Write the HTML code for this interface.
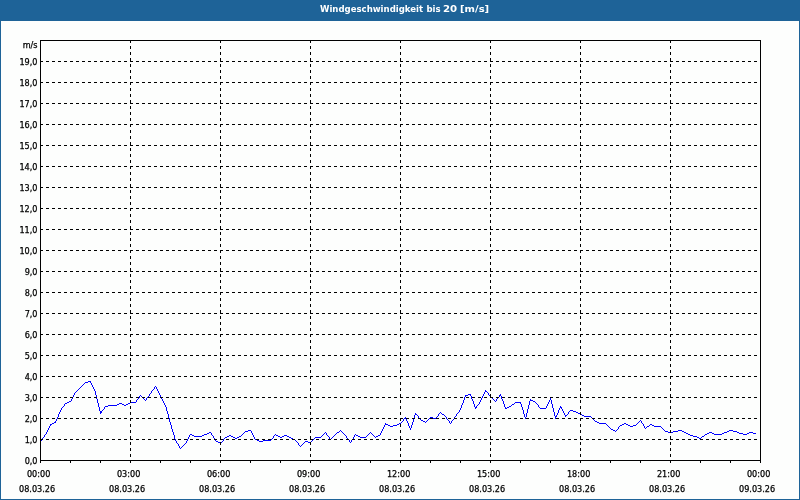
<!DOCTYPE html>
<html><head><meta charset="utf-8"><title>Windgeschwindigkeit bis 20 [m/s]</title>
<style>
html,body{margin:0;padding:0;background:#fdfefd;}
body{width:800px;height:500px;overflow:hidden;position:relative;font-family:"Liberation Sans",sans-serif;}
#frame{position:absolute;left:0;top:0;width:798px;height:478px;border:1px solid #1e6398;border-top:21px solid #1e6398;background:#fdfefd;}
#title{position:absolute;left:0;top:0;width:800px;height:21px;line-height:19px;color:#fff;font-family:"DejaVu Sans Condensed","DejaVu Sans","Liberation Sans",sans-serif;font-weight:bold;font-size:9.5px;white-space:nowrap;}
#title span{position:absolute;top:-1px;}
svg{position:absolute;left:0;top:0;}
svg text{font-family:"DejaVu Sans Condensed","DejaVu Sans","Liberation Sans",sans-serif;font-size:9px;fill:#000;stroke:#000;stroke-width:0.25px;}
</style></head><body>
<div id="frame"></div>
<div id="title"><span style="left:320px">Windgeschwindigkeit </span><span style="left:426.5px">bis </span><span style="left:442.8px;transform:scaleX(1.19);transform-origin:0 0">20 </span><span style="left:459.8px;transform:scaleX(1.17);transform-origin:0 0">[m/s]</span></div>
<svg width="800" height="500" viewBox="0 0 800 500">
<g shape-rendering="crispEdges" fill="none" stroke="#000" stroke-width="1">
<path stroke="none" fill="#0000ff" d="M88 381h2v1h-2zM90 381h1v2h-1zM85 382h3v1h-3zM84 383h1v1h-1zM91 383h1v2h-1zM83 384h1v1h-1zM82 385h1v1h-1zM92 385h1v2h-1zM81 386h1v1h-1zM155 386h1v1h-1zM80 387h1v1h-1zM93 387h1v2h-1zM154 387h1v2h-1zM156 387h1v2h-1zM79 388h1v1h-1zM78 389h1v1h-1zM153 389h1v1h-1zM94 389h1v2h-1zM157 389h1v2h-1zM77 390h1v1h-1zM152 390h1v1h-1zM485 390h1v2h-1zM76 391h1v1h-1zM486 391h1v1h-1zM151 391h1v2h-1zM158 391h1v2h-1zM95 391h1v4h-1zM75 392h1v1h-1zM487 392h1v1h-1zM484 392h1v2h-1zM150 393h1v1h-1zM74 393h1v2h-1zM159 393h1v2h-1zM488 393h1v2h-1zM468 394h2v1h-2zM149 394h1v2h-1zM470 394h1v2h-1zM483 394h1v2h-1zM500 394h1v2h-1zM140 395h1v1h-1zM466 395h2v1h-2zM489 395h1v1h-1zM73 395h1v2h-1zM160 395h1v2h-1zM465 395h1v2h-1zM499 395h1v2h-1zM96 395h1v4h-1zM141 396h1v1h-1zM148 396h1v1h-1zM490 396h1v1h-1zM139 396h1v2h-1zM482 396h1v2h-1zM471 396h1v3h-1zM501 396h1v3h-1zM142 397h1v1h-1zM147 397h1v1h-1zM491 397h1v1h-1zM498 397h1v1h-1zM72 397h1v2h-1zM161 397h1v2h-1zM464 397h1v3h-1zM138 398h1v1h-1zM143 398h1v1h-1zM492 398h1v1h-1zM497 398h1v1h-1zM146 398h1v2h-1zM481 398h1v2h-1zM550 398h1v2h-1zM137 399h1v1h-1zM144 399h1v1h-1zM493 399h1v1h-1zM71 399h1v2h-1zM162 399h1v2h-1zM472 399h1v2h-1zM496 399h1v2h-1zM502 399h1v2h-1zM530 399h1v2h-1zM97 399h1v4h-1zM145 400h1v1h-1zM494 400h1v1h-1zM531 400h2v1h-2zM136 400h1v2h-1zM480 400h1v2h-1zM549 400h1v2h-1zM463 400h1v3h-1zM551 400h1v4h-1zM69 401h2v1h-2zM495 401h1v1h-1zM533 401h2v1h-2zM163 401h1v2h-1zM473 401h1v3h-1zM503 401h1v3h-1zM529 401h1v4h-1zM67 402h2v1h-2zM130 402h6v1h-6zM515 402h5v1h-5zM535 402h1v1h-1zM479 402h1v2h-1zM520 402h1v2h-1zM548 402h1v2h-1zM65 403h2v1h-2zM119 403h3v1h-3zM128 403h2v1h-2zM514 403h1v1h-1zM536 403h1v1h-1zM164 403h1v2h-1zM462 403h1v2h-1zM98 403h1v4h-1zM117 404h2v1h-2zM122 404h2v1h-2zM126 404h2v1h-2zM478 404h1v1h-1zM512 404h2v1h-2zM537 404h1v1h-1zM64 404h1v2h-1zM547 404h1v2h-1zM474 404h1v3h-1zM504 404h1v3h-1zM521 404h1v3h-1zM552 404h1v4h-1zM108 405h9v1h-9zM124 405h2v1h-2zM477 405h1v1h-1zM511 405h1v1h-1zM165 405h1v2h-1zM538 405h1v2h-1zM461 405h1v3h-1zM528 405h1v4h-1zM63 406h1v1h-1zM105 406h3v1h-3zM509 406h2v1h-2zM476 406h1v2h-1zM546 406h1v2h-1zM560 406h1v2h-1zM62 407h1v1h-1zM507 407h2v1h-2zM539 407h1v1h-1zM104 407h1v2h-1zM475 407h1v2h-1zM505 407h1v2h-1zM561 407h1v2h-1zM522 407h1v3h-1zM99 407h1v4h-1zM166 407h1v4h-1zM506 408h1v1h-1zM540 408h6v1h-6zM61 408h1v2h-1zM460 408h1v2h-1zM559 408h1v2h-1zM553 408h1v4h-1zM103 409h1v1h-1zM562 409h1v2h-1zM527 409h1v4h-1zM102 410h1v1h-1zM570 410h3v1h-3zM60 410h1v2h-1zM459 410h1v2h-1zM558 410h1v3h-1zM523 410h1v4h-1zM569 411h1v1h-1zM573 411h3v1h-3zM101 411h1v2h-1zM563 411h1v2h-1zM100 411h1v3h-1zM167 411h1v3h-1zM440 412h1v1h-1zM458 412h1v1h-1zM576 412h2v1h-2zM59 412h1v2h-1zM568 412h1v2h-1zM554 412h1v4h-1zM439 413h1v1h-1zM441 413h1v1h-1zM457 413h1v1h-1zM578 413h2v1h-2zM415 413h1v2h-1zM557 413h1v2h-1zM564 413h1v2h-1zM526 413h1v4h-1zM416 414h1v1h-1zM442 414h2v1h-2zM567 414h1v1h-1zM580 414h2v1h-2zM438 414h1v2h-1zM456 414h1v2h-1zM58 414h1v3h-1zM524 414h1v3h-1zM168 414h1v4h-1zM417 415h1v1h-1zM444 415h1v1h-1zM566 415h1v1h-1zM582 415h2v1h-2zM556 415h1v2h-1zM565 415h1v2h-1zM414 415h1v3h-1zM437 416h1v1h-1zM445 416h1v1h-1zM455 416h1v1h-1zM584 416h7v1h-7zM418 416h1v2h-1zM555 416h1v3h-1zM430 417h3v1h-3zM436 417h1v1h-1zM591 417h1v1h-1zM57 417h1v2h-1zM405 417h1v2h-1zM446 417h1v2h-1zM454 417h1v2h-1zM525 417h1v2h-1zM404 418h1v1h-1zM419 418h1v1h-1zM429 418h1v1h-1zM433 418h3v1h-3zM592 418h1v1h-1zM169 418h1v4h-1zM413 418h1v4h-1zM420 419h1v1h-1zM428 419h1v1h-1zM447 419h1v1h-1zM453 419h1v1h-1zM593 419h1v1h-1zM56 419h1v2h-1zM403 419h1v2h-1zM406 419h1v2h-1zM421 420h2v1h-2zM427 420h1v1h-1zM448 420h1v1h-1zM452 420h1v1h-1zM594 420h1v1h-1zM640 420h1v1h-1zM402 421h1v1h-1zM423 421h2v1h-2zM426 421h1v1h-1zM595 421h2v1h-2zM639 421h1v1h-1zM55 421h1v2h-1zM407 421h1v2h-1zM449 421h1v2h-1zM451 421h1v2h-1zM641 421h1v2h-1zM54 422h1v1h-1zM401 422h1v1h-1zM425 422h1v1h-1zM597 422h2v1h-2zM638 422h1v1h-1zM170 422h1v3h-1zM412 422h1v3h-1zM52 423h2v1h-2zM399 423h2v1h-2zM450 423h1v1h-1zM599 423h7v1h-7zM624 423h2v1h-2zM637 423h1v1h-1zM642 423h1v1h-1zM385 423h1v2h-1zM408 423h1v3h-1zM51 424h1v1h-1zM386 424h2v1h-2zM397 424h2v1h-2zM606 424h1v1h-1zM622 424h2v1h-2zM626 424h2v1h-2zM636 424h1v1h-1zM650 424h2v1h-2zM50 424h1v2h-1zM643 424h1v2h-1zM388 425h2v1h-2zM393 425h4v1h-4zM607 425h1v1h-1zM620 425h2v1h-2zM628 425h2v1h-2zM633 425h3v1h-3zM649 425h1v1h-1zM652 425h2v1h-2zM384 425h1v2h-1zM411 425h1v3h-1zM171 425h1v4h-1zM390 426h3v1h-3zM608 426h1v1h-1zM619 426h1v1h-1zM630 426h3v1h-3zM647 426h2v1h-2zM654 426h7v1h-7zM49 426h1v2h-1zM409 426h1v2h-1zM644 426h1v2h-1zM609 427h1v1h-1zM646 427h1v1h-1zM661 427h1v1h-1zM383 427h1v2h-1zM618 427h1v2h-1zM610 428h1v1h-1zM645 428h1v1h-1zM662 428h1v1h-1zM48 428h1v2h-1zM410 428h1v2h-1zM611 429h2v1h-2zM617 429h1v1h-1zM663 429h1v1h-1zM382 429h1v2h-1zM172 429h1v3h-1zM248 430h3v1h-3zM340 430h1v1h-1zM613 430h2v1h-2zM616 430h1v1h-1zM664 430h1v1h-1zM678 430h4v1h-4zM729 430h4v1h-4zM47 430h1v2h-1zM245 431h3v1h-3zM339 431h1v1h-1zM341 431h1v1h-1zM615 431h1v1h-1zM665 431h3v1h-3zM673 431h5v1h-5zM682 431h2v1h-2zM727 431h2v1h-2zM733 431h4v1h-4zM251 431h1v2h-1zM381 431h1v2h-1zM209 432h2v1h-2zM244 432h1v1h-1zM325 432h1v1h-1zM337 432h2v1h-2zM342 432h1v1h-1zM370 432h1v1h-1zM668 432h5v1h-5zM684 432h2v1h-2zM709 432h3v1h-3zM724 432h3v1h-3zM737 432h2v1h-2zM749 432h4v1h-4zM46 432h1v2h-1zM173 432h1v3h-1zM207 433h2v1h-2zM243 433h1v1h-1zM324 433h1v1h-1zM336 433h1v1h-1zM343 433h1v1h-1zM369 433h1v1h-1zM371 433h1v1h-1zM686 433h2v1h-2zM707 433h2v1h-2zM712 433h2v1h-2zM722 433h2v1h-2zM739 433h4v1h-4zM747 433h2v1h-2zM753 433h3v1h-3zM211 433h1v2h-1zM252 433h1v2h-1zM326 433h1v2h-1zM380 433h1v2h-1zM45 434h1v1h-1zM190 434h2v1h-2zM204 434h3v1h-3zM242 434h1v1h-1zM275 434h1v1h-1zM323 434h1v1h-1zM335 434h1v1h-1zM344 434h1v1h-1zM355 434h1v1h-1zM368 434h1v1h-1zM372 434h1v1h-1zM688 434h2v1h-2zM705 434h2v1h-2zM714 434h8v1h-8zM743 434h4v1h-4zM192 435h2v1h-2zM202 435h2v1h-2zM212 435h1v1h-1zM229 435h2v1h-2zM241 435h1v1h-1zM274 435h1v1h-1zM276 435h2v1h-2zM284 435h3v1h-3zM322 435h1v1h-1zM327 435h1v1h-1zM334 435h1v1h-1zM345 435h1v1h-1zM356 435h2v1h-2zM367 435h1v1h-1zM373 435h1v1h-1zM378 435h2v1h-2zM690 435h3v1h-3zM704 435h1v1h-1zM44 435h1v2h-1zM189 435h1v2h-1zM253 435h1v2h-1zM354 435h1v2h-1zM174 435h1v4h-1zM194 436h8v1h-8zM227 436h2v1h-2zM231 436h2v1h-2zM239 436h2v1h-2zM278 436h2v1h-2zM282 436h2v1h-2zM287 436h2v1h-2zM321 436h1v1h-1zM328 436h1v1h-1zM333 436h1v1h-1zM358 436h2v1h-2zM366 436h1v1h-1zM374 436h1v1h-1zM376 436h2v1h-2zM693 436h4v1h-4zM702 436h2v1h-2zM213 436h1v2h-1zM273 436h1v2h-1zM346 436h1v2h-1zM43 437h1v1h-1zM225 437h2v1h-2zM233 437h2v1h-2zM237 437h2v1h-2zM280 437h2v1h-2zM289 437h2v1h-2zM315 437h6v1h-6zM332 437h1v1h-1zM360 437h6v1h-6zM375 437h1v1h-1zM697 437h2v1h-2zM701 437h1v1h-1zM188 437h1v2h-1zM254 437h1v2h-1zM329 437h1v2h-1zM353 437h1v2h-1zM42 438h1v1h-1zM224 438h1v1h-1zM235 438h2v1h-2zM272 438h1v1h-1zM291 438h2v1h-2zM314 438h1v1h-1zM331 438h1v1h-1zM347 438h1v1h-1zM699 438h2v1h-2zM214 438h1v2h-1zM255 439h2v1h-2zM271 439h1v1h-1zM293 439h2v1h-2zM313 439h1v1h-1zM330 439h1v1h-1zM348 439h1v1h-1zM352 439h1v1h-1zM41 439h1v2h-1zM175 439h1v2h-1zM187 439h1v2h-1zM223 439h1v2h-1zM215 440h1v1h-1zM257 440h2v1h-2zM263 440h8v1h-8zM295 440h1v1h-1zM312 440h1v1h-1zM349 440h1v2h-1zM351 440h1v2h-1zM40 441h1v1h-1zM216 441h2v1h-2zM222 441h1v1h-1zM259 441h4v1h-4zM296 441h1v1h-1zM305 441h3v1h-3zM311 441h1v1h-1zM176 441h1v2h-1zM186 441h1v2h-1zM218 442h2v1h-2zM221 442h1v1h-1zM297 442h1v1h-1zM304 442h1v1h-1zM308 442h3v1h-3zM350 442h1v1h-1zM177 443h1v1h-1zM185 443h1v1h-1zM220 443h1v1h-1zM303 443h1v1h-1zM298 443h1v2h-1zM184 444h1v1h-1zM302 444h1v1h-1zM178 444h1v2h-1zM183 445h1v1h-1zM299 445h1v1h-1zM301 445h1v1h-1zM182 446h1v1h-1zM300 446h1v1h-1zM179 446h1v2h-1zM181 447h1v1h-1zM180 448h1v1h-1z"/>
<line x1="40" y1="439.5" x2="760" y2="439.5" stroke-dasharray="3 3"/>
<line x1="40" y1="418.5" x2="760" y2="418.5" stroke-dasharray="3 3"/>
<line x1="40" y1="397.5" x2="760" y2="397.5" stroke-dasharray="3 3"/>
<line x1="40" y1="376.5" x2="760" y2="376.5" stroke-dasharray="3 3"/>
<line x1="40" y1="355.5" x2="760" y2="355.5" stroke-dasharray="3 3"/>
<line x1="40" y1="334.5" x2="760" y2="334.5" stroke-dasharray="3 3"/>
<line x1="40" y1="313.5" x2="760" y2="313.5" stroke-dasharray="3 3"/>
<line x1="40" y1="292.5" x2="760" y2="292.5" stroke-dasharray="3 3"/>
<line x1="40" y1="271.5" x2="760" y2="271.5" stroke-dasharray="3 3"/>
<line x1="40" y1="250.5" x2="760" y2="250.5" stroke-dasharray="3 3"/>
<line x1="40" y1="229.5" x2="760" y2="229.5" stroke-dasharray="3 3"/>
<line x1="40" y1="208.5" x2="760" y2="208.5" stroke-dasharray="3 3"/>
<line x1="40" y1="187.5" x2="760" y2="187.5" stroke-dasharray="3 3"/>
<line x1="40" y1="166.5" x2="760" y2="166.5" stroke-dasharray="3 3"/>
<line x1="40" y1="145.5" x2="760" y2="145.5" stroke-dasharray="3 3"/>
<line x1="40" y1="124.5" x2="760" y2="124.5" stroke-dasharray="3 3"/>
<line x1="40" y1="103.5" x2="760" y2="103.5" stroke-dasharray="3 3"/>
<line x1="40" y1="82.5" x2="760" y2="82.5" stroke-dasharray="3 3"/>
<line x1="40" y1="61.5" x2="760" y2="61.5" stroke-dasharray="3 3"/>
<line x1="130.5" y1="40" x2="130.5" y2="460" stroke-dasharray="3 3"/>
<line x1="220.5" y1="40" x2="220.5" y2="460" stroke-dasharray="3 3"/>
<line x1="310.5" y1="40" x2="310.5" y2="460" stroke-dasharray="3 3"/>
<line x1="400.5" y1="40" x2="400.5" y2="460" stroke-dasharray="3 3"/>
<line x1="490.5" y1="40" x2="490.5" y2="460" stroke-dasharray="3 3"/>
<line x1="580.5" y1="40" x2="580.5" y2="460" stroke-dasharray="3 3"/>
<line x1="670.5" y1="40" x2="670.5" y2="460" stroke-dasharray="3 3"/>
<rect x="40.5" y="40.5" width="720" height="420"/>
<line x1="40.5" y1="461" x2="40.5" y2="463"/>
<line x1="70.5" y1="461" x2="70.5" y2="463"/>
<line x1="100.5" y1="461" x2="100.5" y2="463"/>
<line x1="130.5" y1="461" x2="130.5" y2="463"/>
<line x1="160.5" y1="461" x2="160.5" y2="463"/>
<line x1="190.5" y1="461" x2="190.5" y2="463"/>
<line x1="220.5" y1="461" x2="220.5" y2="463"/>
<line x1="250.5" y1="461" x2="250.5" y2="463"/>
<line x1="280.5" y1="461" x2="280.5" y2="463"/>
<line x1="310.5" y1="461" x2="310.5" y2="463"/>
<line x1="340.5" y1="461" x2="340.5" y2="463"/>
<line x1="370.5" y1="461" x2="370.5" y2="463"/>
<line x1="400.5" y1="461" x2="400.5" y2="463"/>
<line x1="430.5" y1="461" x2="430.5" y2="463"/>
<line x1="460.5" y1="461" x2="460.5" y2="463"/>
<line x1="490.5" y1="461" x2="490.5" y2="463"/>
<line x1="520.5" y1="461" x2="520.5" y2="463"/>
<line x1="550.5" y1="461" x2="550.5" y2="463"/>
<line x1="580.5" y1="461" x2="580.5" y2="463"/>
<line x1="610.5" y1="461" x2="610.5" y2="463"/>
<line x1="640.5" y1="461" x2="640.5" y2="463"/>
<line x1="670.5" y1="461" x2="670.5" y2="463"/>
<line x1="700.5" y1="461" x2="700.5" y2="463"/>
<line x1="730.5" y1="461" x2="730.5" y2="463"/>
<line x1="760.5" y1="461" x2="760.5" y2="463"/>
</g>
<g text-anchor="end">
<text x="37.5" y="48">m/s</text>
<text x="37.5" y="464">0,0</text>
<text x="37.5" y="443">1,0</text>
<text x="37.5" y="422">2,0</text>
<text x="37.5" y="401">3,0</text>
<text x="37.5" y="380">4,0</text>
<text x="37.5" y="359">5,0</text>
<text x="37.5" y="338">6,0</text>
<text x="37.5" y="317">7,0</text>
<text x="37.5" y="296">8,0</text>
<text x="37.5" y="275">9,0</text>
<text x="37.5" y="254">10,0</text>
<text x="37.5" y="233">11,0</text>
<text x="37.5" y="212">12,0</text>
<text x="37.5" y="191">13,0</text>
<text x="37.5" y="170">14,0</text>
<text x="37.5" y="149">15,0</text>
<text x="37.5" y="128">16,0</text>
<text x="37.5" y="107">17,0</text>
<text x="37.5" y="86">18,0</text>
<text x="37.5" y="65">19,0</text>
</g>
<g text-anchor="middle">
<text x="38.65" y="477">00:00</text>
<text x="37.1" y="492">08.03.26</text>
<text x="128.65" y="477">03:00</text>
<text x="127.1" y="492">08.03.26</text>
<text x="218.65" y="477">06:00</text>
<text x="217.1" y="492">08.03.26</text>
<text x="308.65" y="477">09:00</text>
<text x="307.1" y="492">08.03.26</text>
<text x="398.65" y="477">12:00</text>
<text x="397.1" y="492">08.03.26</text>
<text x="488.65" y="477">15:00</text>
<text x="487.1" y="492">08.03.26</text>
<text x="578.65" y="477">18:00</text>
<text x="577.1" y="492">08.03.26</text>
<text x="668.65" y="477">21:00</text>
<text x="667.1" y="492">08.03.26</text>
<text x="758.65" y="477">00:00</text>
<text x="757.1" y="492">09.03.26</text>
</g>
</svg>
</body></html>
